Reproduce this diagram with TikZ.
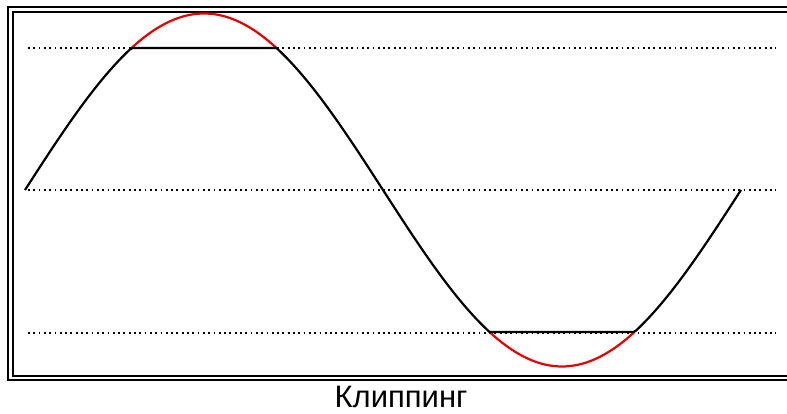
\documentclass[tikz,border=0pt]{standalone}
\usepackage{fontspec}
\setmainfont{Liberation Sans}
\usetikzlibrary{positioning,calc}

\begin{document}
\begin{tikzpicture}[x=1pt, y=-1pt,
  frameline/.style={line width=2pt, black},
  level/.style={line width=1.8pt, dash pattern=on 1.8pt off 3.5pt},
  wave/.style={line width=2.2pt, black, line join=round},
  cut/.style={line width=2.2pt, red!90!black},
  caption/.style={font=\fontsize{31}{34}\selectfont, inner sep=0pt}]
\useasboundingbox (0,0) rectangle (787,414);
% double frame
\draw[frameline] (787,7) -- (8,7) -- (8,379.5) -- (787,379.5);
\draw[frameline] (787,12) -- (12.5,12) -- (12.5,375.5) -- (787,375.5);
% clip levels
\draw[level] (28,48) -- (776,48);
\draw[level] (28,190) -- (776,190);
\draw[level] (28,333) -- (776,333);
% parts cut off
\draw[cut, domain=131.5:276.5, samples=60] plot (\x, {190-176.5*sin(0.502793*(\x-25))});
\draw[cut, domain=489.5:634.5, samples=60] plot (\x, {190-176.5*sin(0.502793*(\x-25))});
% clipped signal
\draw[wave, domain=25:741, samples=300] plot (\x, {190-max(-142,min(142,176.5*sin(0.502793*(\x-25))))});
\node[caption, anchor=base] (title) at (401,407) {Клиппинг};
\end{tikzpicture}
\end{document}
